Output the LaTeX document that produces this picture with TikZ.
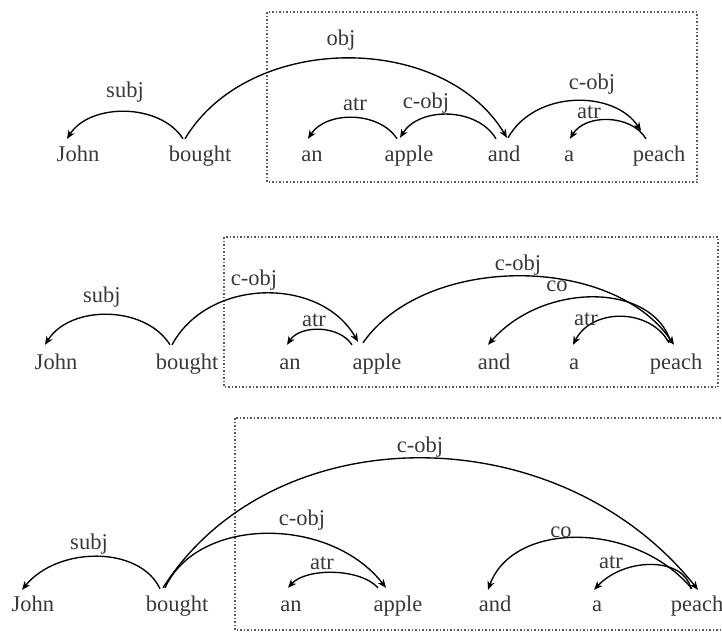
\documentclass[tikz,border=0pt]{standalone}
\usepackage{fontspec}
\setmainfont{Liberation Serif}
\usetikzlibrary{arrows.meta}
\begin{document}
\begin{tikzpicture}[x=1pt,y=-1pt,
  word/.style={anchor=base,inner sep=0pt,text height=16pt,text depth=5pt,text=black!78,font=\fontsize{22.5}{27}\selectfont},
  lab/.style={inner sep=0pt,text=black!78,font=\fontsize{22.5}{27}\selectfont},
  arc/.style={line width=1.35pt,-{Stealth[length=8.5pt,width=7pt,inset=2.5pt]}},
  dotbox/.style={draw=black!65,line width=1.6pt,dash pattern=on 1.5pt off 2pt}]
\useasboundingbox (0,0) rectangle (722,633);
% ---------- panel 1 ----------
\draw[dotbox] (267,12) rectangle (697,182);
\node[word] (j1) at (78,161) {John};
\node[word] (b1) at (200,161) {bought};
\node[word] (an1) at (312,161) {an};
\node[word] (ap1) at (409,161) {apple};
\node[word] (nd1) at (504,161) {and};
\node[word] (a1) at (569,161) {a};
\node[word] (p1) at (659,161) {peach};
\draw[arc] ([shift={(-17,-6)}]b1.north) .. controls +(-23,-36) and +(23,-36) .. ([shift={(-11,-6)}]j1.north);
\draw[arc] ([shift={(-15,-6)}]b1.north) .. controls +(64,-107) and +(-64,-106) .. ([shift={(3,-7)}]nd1.north);
\draw[arc] ([shift={(-12,-6)}]ap1.north) .. controls +(-18,-28) and +(18,-28) .. ([shift={(-4,-6)}]an1.north);
\draw[arc] ([shift={(-8,-6)}]nd1.north) .. controls +(-19,-32) and +(19,-31) .. ([shift={(-9,-7)}]ap1.north);
\draw[arc] ([shift={(4,-7)}]nd1.north) .. controls +(27,-48) and +(-27,-41) .. ([shift={(-18,-14)}]p1.north);
\draw[arc] ([shift={(-13,-6)}]p1.north) .. controls +(-15,-25) and +(15,-25) .. ([shift={(1,-6)}]a1.north);
\node[lab] (l11) at (125,92) {subj};
\node[lab] (l12) at (341,40) {obj};
\node[lab] (l13) at (355,104) {atr};
\node[lab] (l14) at (426,103) {c-obj};
\node[lab] (l15) at (592,84) {c-obj};
\node[lab] (l16) at (589,112) {atr};
% ---------- panel 2 ----------
\draw[dotbox] (224,237) rectangle (718,387);
\node[word] (j2) at (56,369) {John};
\node[word] (b2) at (187,369) {bought};
\node[word] (an2) at (290,369) {an};
\node[word] (ap2) at (377,369) {apple};
\node[word] (nd2) at (494,369) {and};
\node[word] (a2) at (574,369) {a};
\node[word] (p2) at (676,369) {peach};
\draw[arc] ([shift={(-17,-8)}]b2.north) .. controls +(-25,-40) and +(25,-40) .. ([shift={(-11,-8)}]j2.north);
\draw[arc] ([shift={(-15,-8)}]b2.north) .. controls +(37,-68) and +(-37,-65) .. ([shift={(-19,-11)}]ap2.north);
\draw[arc] ([shift={(-25,-8)}]ap2.north) .. controls +(-13,-20) and +(13,-20) .. ([shift={(-3,-8)}]an2.north);
\draw[arc] ([shift={(-14,-10)}]ap2.north) .. controls +(62,-89) and +(-62,-91) .. ([shift={(-2,-8)}]p2.north);
\draw[arc] ([shift={(-5,-10)}]p2.north) .. controls +(-18,-61) and +(55,-63) .. ([shift={(-6,-8)}]nd2.north);
\draw[arc] ([shift={(-7,-10)}]p2.north) .. controls +(-19,-35) and +(19,-37) .. ([shift={(-1,-8)}]a2.north);
\node[lab] (l21) at (102,297) {subj};
\node[lab] (l22) at (254,280) {c-obj};
\node[lab] (l23) at (314,320) {atr};
\node[lab] (l24) at (518,265) {c-obj};
\node[lab] (l25) at (557,286) {co};
\node[lab] (l26) at (586,319) {atr};
% ---------- panel 3 ----------
\draw[dotbox] (235,418) rectangle (726,630);
\node[word] (j3) at (33,611) {John};
\node[word] (b3) at (177,611) {bought};
\node[word] (an3) at (291,611) {an};
\node[word] (ap3) at (398,611) {apple};
\node[word] (nd3) at (495,611) {and};
\node[word] (a3) at (597,611) {a};
\node[word] (p3) at (697,611) {peach};
\draw[arc] ([shift={(-17,-6)}]b3.north) .. controls +(-20,-43) and +(36,-44) .. ([shift={(-11,-5)}]j3.north);
\draw[arc] ([shift={(-14,-7)}]b3.north) .. controls +(110,-173) and +(-140,-175) .. ([shift={(1,-5)}]p3.north);
\draw[arc] ([shift={(-12,-7)}]b3.north) .. controls +(33,-72) and +(-56,-72) .. ([shift={(-12,-7)}]ap3.north);
\draw[arc] ([shift={(-20,-7)}]ap3.north) .. controls +(-18,-20) and +(18,-20) .. ([shift={(-3,-7)}]an3.north);
\draw[arc] ([shift={(-5,-6)}]p3.north) .. controls +(-57,-68) and +(25,-69) .. ([shift={(-7,-5)}]nd3.north);
\draw[arc] ([shift={(-6,-6)}]p3.north) .. controls +(-7,-32) and +(31,-33) .. ([shift={(-3,-5)}]a3.north);
\node[lab] (l31) at (89,544) {subj};
\node[lab] (l32) at (420,447) {c-obj};
\node[lab] (l33) at (302,520) {c-obj};
\node[lab] (l34) at (322,563) {atr};
\node[lab] (l35) at (561,532) {co};
\node[lab] (l36) at (611,562) {atr};
\end{tikzpicture}
\end{document}
